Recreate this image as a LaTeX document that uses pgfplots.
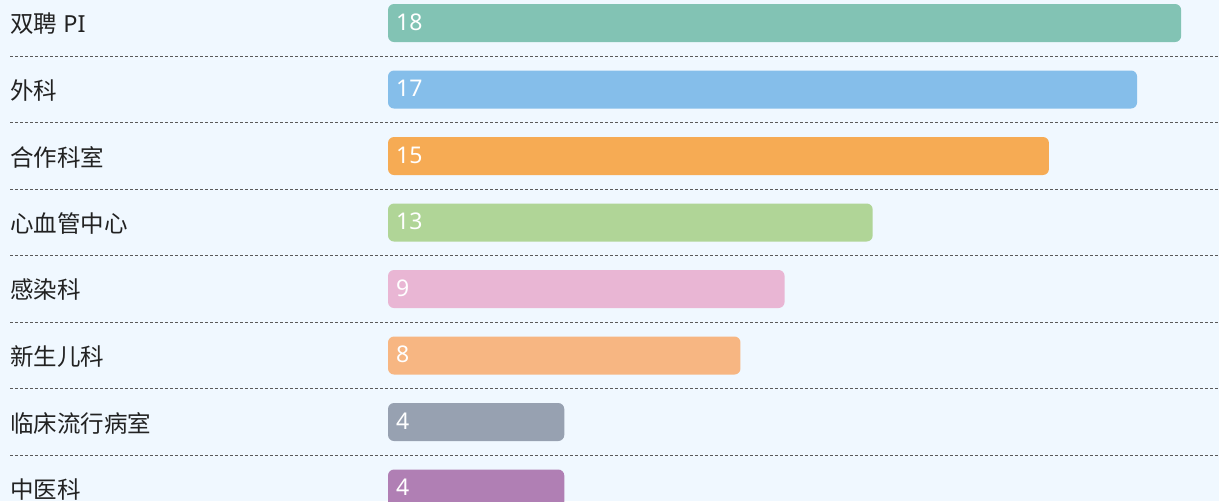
\documentclass[border=0pt]{standalone}
\usepackage{fontspec}
\setmainfont{Noto Sans}
\newfontfamily\cjk{Noto Sans CJK SC}
\usepackage{pgfplots}
\usepackage{pgfplotstable}
\pgfplotsset{compat=1.18}

\definecolor{bgc}{HTML}{F0F8FF}
\definecolor{txt}{HTML}{222222}
\definecolor{sep}{HTML}{5A5A5A}
\definecolor{c1}{HTML}{82C3B4}
\definecolor{c2}{HTML}{85BEEA}
\definecolor{c3}{HTML}{F6AB54}
\definecolor{c4}{HTML}{B0D597}
\definecolor{c5}{HTML}{E9B6D4}
\definecolor{c6}{HTML}{F7B682}
\definecolor{c7}{HTML}{97A1B1}
\definecolor{c8}{HTML}{B07FB4}

% idx = row, len = drawn bar length, lab = printed value
\pgfplotstableread{
idx len lab
0 18 18
1 17 17
2 15 15
3 11 13
4 9 9
5 8 8
6 4 4
7 4 4
}\data

\begin{document}
\begin{tikzpicture}
\fill[bgc] (0,0) rectangle (1219pt,501pt);
\useasboundingbox (0,0) rectangle (1219pt,501pt);
\clip (0,0) rectangle (1219pt,501pt);
\begin{axis}[
    at={(10pt,0pt)}, anchor=south west,
    scale only axis,
    width=1209pt, height=501pt,
    xmin=-8.579, xmax=18.86,
    ymin=-0.346, ymax=7.188,
    y dir=reverse,
    axis line style={draw=none},
    tick style={draw=none},
    xtick=\empty,
    ytick={0,1,2,3,4,5,6,7},
    yticklabels={{\cjk 双聘} PI,\cjk 外科,\cjk 合作科室,\cjk 心血管中心,\cjk 感染科,\cjk 新生儿科,\cjk 临床流行病室,\cjk 中医科},
    yticklabel style={anchor=west, inner sep=0pt, yshift=-1pt, text=txt, font=\fontsize{23.5}{26}\selectfont},
    minor ytick={0.5,1.5,2.5,3.5,4.5,5.5,6.5},
    yminorgrids,
    minor grid style={draw=sep, line width=1pt, dash pattern=on 3pt off 2pt},
    clip=false,
]
    \addplot[xbar, bar width=38pt, bar shift=0pt, fill=c1, draw=none, rounded corners=6pt] coordinates {(18,0)};
    \addplot[xbar, bar width=38pt, bar shift=0pt, fill=c2, draw=none, rounded corners=6pt] coordinates {(17,1)};
    \addplot[xbar, bar width=38pt, bar shift=0pt, fill=c3, draw=none, rounded corners=6pt] coordinates {(15,2)};
    \addplot[xbar, bar width=38pt, bar shift=0pt, fill=c4, draw=none, rounded corners=6pt] coordinates {(11,3)};
    \addplot[xbar, bar width=38pt, bar shift=0pt, fill=c5, draw=none, rounded corners=6pt] coordinates {(9,4)};
    \addplot[xbar, bar width=38pt, bar shift=0pt, fill=c6, draw=none, rounded corners=6pt] coordinates {(8,5)};
    \addplot[xbar, bar width=38pt, bar shift=0pt, fill=c7, draw=none, rounded corners=6pt] coordinates {(4,6)};
    \addplot[xbar, bar width=38pt, bar shift=0pt, fill=c8, draw=none, rounded corners=6pt] coordinates {(4,7)};

    % value labels at the start of each bar
    \addplot[only marks, mark=none, nodes near coords, point meta=explicit symbolic,
        every node near coord/.style={anchor=west, inner sep=0pt, xshift=8pt, yshift=1pt, text=white,
            font=\fontsize{23}{26}\selectfont}]
        table[x expr=0, y=idx, meta=lab] {\data};
\end{axis}
\end{tikzpicture}
\end{document}
